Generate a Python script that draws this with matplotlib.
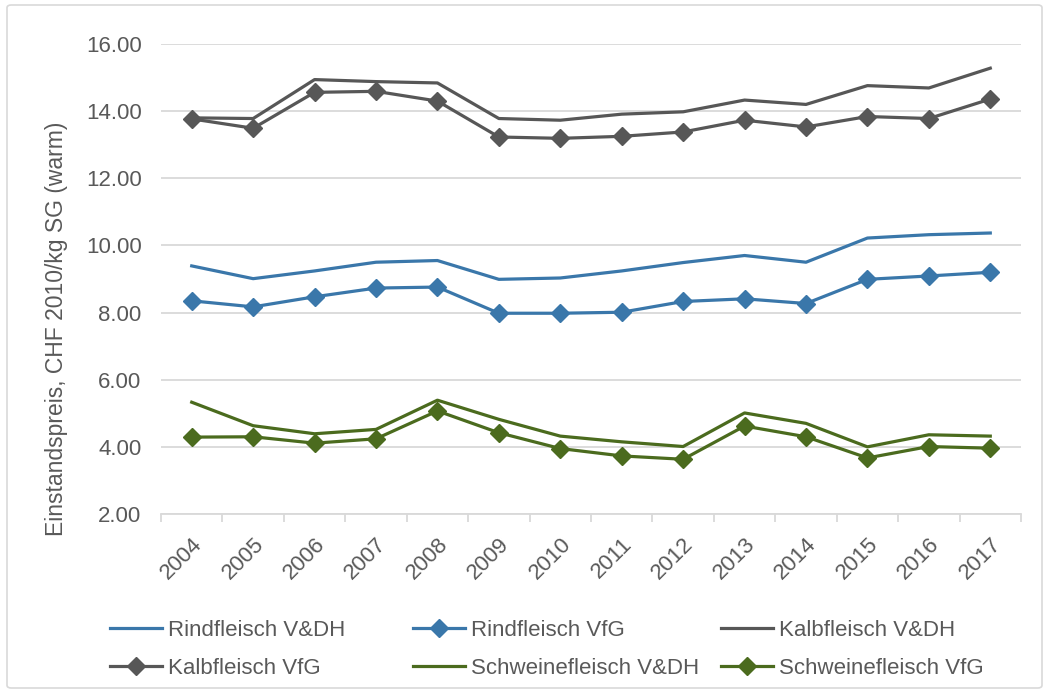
import matplotlib.pyplot as plt
from matplotlib.patches import FancyBboxPatch
import numpy as np

years = [str(y) for y in range(2004, 2018)]

rind_vdh = [9.39, 9.01, 9.24, 9.50, 9.55, 8.99, 9.03, 9.24, 9.49, 9.70, 9.50, 10.22, 10.32, 10.37]
rind_vfg = [8.35, 8.17, 8.47, 8.73, 8.76, 7.98, 7.98, 8.01, 8.33, 8.41, 8.27, 8.99, 9.09, 9.20]
kalb_vdh = [13.80, 13.78, 14.94, 14.88, 14.84, 13.78, 13.73, 13.91, 13.98, 14.33, 14.20, 14.76, 14.69, 15.28]
kalb_vfg = [13.77, 13.49, 14.56, 14.59, 14.30, 13.23, 13.19, 13.25, 13.38, 13.73, 13.53, 13.84, 13.78, 14.36]
schwein_vdh = [5.33, 4.63, 4.39, 4.52, 5.39, 4.82, 4.32, 4.15, 4.01, 5.01, 4.70, 4.00, 4.36, 4.32]
schwein_vfg = [4.29, 4.30, 4.11, 4.24, 5.07, 4.42, 3.95, 3.73, 3.63, 4.62, 4.30, 3.67, 4.01, 3.96]

blue = '#3a77aa'
gray = '#575757'
green = '#4b6b1e'
txt = '#595959'
grid = '#d9d9d9'

plt.rcParams['font.family'] = ['Liberation Sans', 'DejaVu Sans']

fig = plt.figure(figsize=(10.56, 6.91), dpi=100)
ax = fig.add_axes([161/1056, 1 - 514/691, 860/1056, 470/691])

# chart border
border = FancyBboxPatch((7/1056, 3/691), 1035/1056, 683/691,
                        boxstyle='round,pad=0,rounding_size=0.004',
                        transform=fig.transFigure, fill=False,
                        edgecolor=grid, linewidth=1.2)
fig.patches.append(border)

x = np.arange(len(years))
lw = 2.3
ms = 9
l1, = ax.plot(x, rind_vdh, color=blue, lw=lw, label='Rindfleisch V&DH')
l2, = ax.plot(x, rind_vfg, color=blue, lw=lw, marker='D', ms=ms, label='Rindfleisch VfG')
l3, = ax.plot(x, kalb_vdh, color=gray, lw=lw, label='Kalbfleisch V&DH')
l4, = ax.plot(x, kalb_vfg, color=gray, lw=lw, marker='D', ms=ms, label='Kalbfleisch VfG')
l5, = ax.plot(x, schwein_vdh, color=green, lw=lw, label='Schweinefleisch V&DH')
l6, = ax.plot(x, schwein_vfg, color=green, lw=lw, marker='D', ms=ms, label='Schweinefleisch VfG')

ax.set_xlim(-0.5, len(years) - 0.5)
ax.set_ylim(2, 16)
ax.set_yticks(np.arange(2, 17, 2))
ax.set_yticklabels([f'{v:.2f}' for v in np.arange(2, 17, 2)])
ax.grid(axis='y', color=grid, lw=1.3)
ax.set_axisbelow(True)

for s in ['top', 'right', 'left']:
    ax.spines[s].set_visible(False)
ax.spines['bottom'].set_color(grid)
ax.spines['bottom'].set_linewidth(1.3)

ax.set_xticks(np.arange(-0.5, len(years), 1), minor=False)
ax.set_xticklabels([])
ax.tick_params(axis='x', which='major', length=6, color=grid, width=1.3)
ax.set_xticks(x, minor=True)
ax.set_xticklabels(years, minor=True, rotation=45, ha='right', va='top',
                   rotation_mode='anchor', fontsize=16, color=txt)
ax.tick_params(axis='x', which='minor', length=0, pad=14)
ax.tick_params(axis='y', length=0, labelsize=16, labelcolor=txt, pad=14)

ax.set_ylabel('Einstandspreis, CHF 2010/kg SG (warm)', fontsize=16.5, color=txt)
ax.yaxis.set_label_coords(-0.108, 0.394)

# legend: three columns of equal width, filled row by row
columns = [(l1, l4), (l2, l5), (l3, l6)]
col_x = [110, 413, 721]
for hs, cx in zip(columns, col_x):
    fig.legend(handles=list(hs), loc='upper left',
               bbox_to_anchor=(cx/1056, 1 - 620/691), ncol=1,
               frameon=False, fontsize=16, handlelength=2.35, handletextpad=0.25,
               labelcolor=txt, borderaxespad=0, borderpad=0,
               labelspacing=0.75)

plt.savefig('out.png', dpi=100)
